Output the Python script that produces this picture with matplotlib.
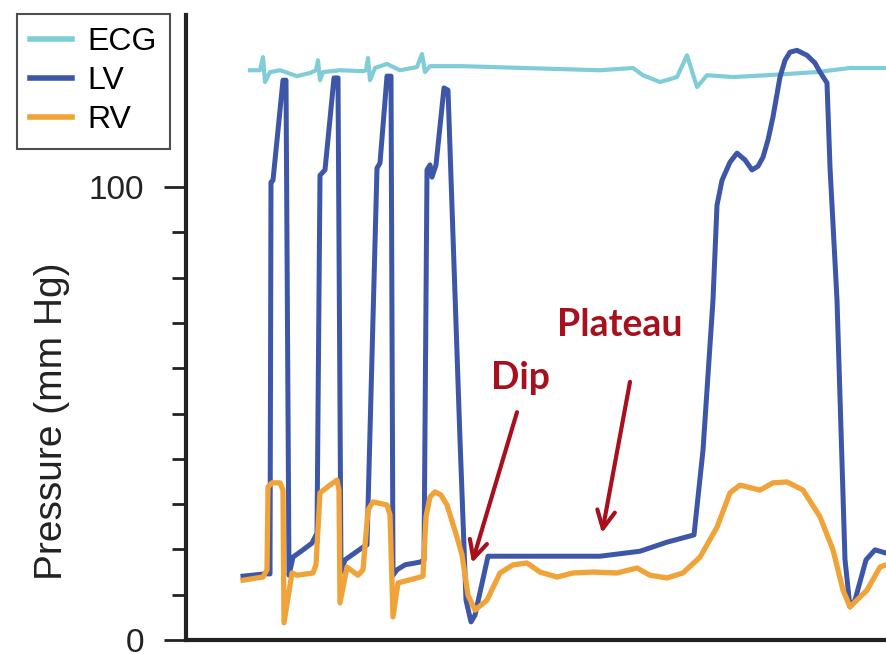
import numpy as np
import matplotlib.pyplot as plt
from matplotlib.ticker import FixedLocator

plt.rcParams['font.family'] = ['Liberation Sans', 'DejaVu Sans']

# traces: time (arbitrary units), pressure (mm Hg)
ecg_t = [64, 74, 77, 79, 84, 94, 111, 124, 130, 132, 134, 137, 154, 177, 180, 182, 184, 189,
         201, 214, 231, 236, 239, 244, 277, 414, 447, 457, 474, 491, 501, 511, 521, 547, 581,
         631, 664, 700]
ecg_p = [125.8, 125.8, 128.7, 123.2, 125.4, 125.8, 124.5, 125.2, 125.8, 128.0, 123.6, 125.4,
         125.8, 125.6, 125.8, 128.5, 123.6, 126.3, 127.2, 125.8, 126.5, 129.4, 125.4, 126.7,
         126.7, 125.8, 126.3, 124.7, 123.2, 124.3, 129.1, 122.1, 124.7, 124.3, 124.7, 125.4,
         126.3, 126.3]

lv_t = [57, 79, 84, 85, 87, 97, 100, 103, 107, 117, 126, 131, 134, 139, 148, 152, 155, 159,
        177, 181, 191, 194, 201, 205, 207, 211, 219, 234, 238, 241, 244, 246, 250, 258, 262,
        274, 280, 285, 289, 302, 414, 454, 481, 508, 517, 527, 531, 536, 544, 551, 559, 566,
        572, 577, 582, 587, 594, 599, 604, 611, 621, 629, 634, 641, 644, 651, 659, 664, 669,
        680, 689, 700]
lv_p = [14.1, 14.6, 14.6, 101.1, 101.5, 123.6, 123.6, 14.3, 18.3, 19.9, 21.4, 23.6, 102.6,
        103.8, 124.1, 124.1, 15.0, 17.7, 20.5, 21.0, 104.2, 105.3, 124.5, 124.5, 14.3, 15.5,
        16.6, 17.2, 17.7, 103.8, 104.9, 102.2, 104.9, 121.9, 121.4, 44.2, 8.8, 4.0, 5.5, 18.5,
        18.5, 19.6, 21.6, 23.2, 41.9, 75.1, 96.0, 101.5, 105.5, 107.5, 106.0, 103.8, 104.6,
        106.6, 110.4, 115.5, 124.3, 128.0, 129.8, 130.2, 129.1, 127.4, 125.4, 123.0, 104.4,
        75.1, 17.7, 7.3, 8.8, 17.7, 19.9, 19.2]

rv_t = [57, 77, 81, 82, 86, 94, 97, 98, 106, 111, 127, 130, 134, 144, 151, 153, 154, 161, 172,
        177, 182, 187, 201, 204, 207, 212, 231, 237, 240, 244, 249, 255, 261, 271, 276, 282,
        289, 301, 314, 327, 341, 354, 371, 387, 407, 431, 451, 464, 481, 497, 514, 531, 544,
        554, 574, 587, 601, 617, 634, 647, 657, 664, 681, 694, 700]
rv_p = [13.2, 13.9, 15.5, 33.8, 34.7, 34.7, 33.1, 3.8, 14.8, 14.3, 14.8, 16.6, 32.5, 34.2,
        35.3, 33.1, 8.2, 16.1, 14.3, 15.5, 28.7, 30.5, 29.8, 27.6, 5.1, 12.6, 13.7, 14.1, 27.2,
        31.6, 32.7, 32.0, 29.8, 22.7, 18.8, 9.9, 6.6, 8.8, 14.8, 16.6, 17.0, 15.0, 13.9, 14.8,
        15.0, 14.8, 15.9, 14.3, 13.7, 14.8, 18.3, 24.9, 32.5, 34.2, 33.1, 34.7, 34.9, 33.1,
        27.2, 19.9, 11.0, 7.3, 11.0, 16.1, 16.6]

ecg_col = '#80cdd8'
lv_col = '#3d56a8'
rv_col = '#f0a338'
red = '#a8101e'

fig = plt.figure(figsize=(8.86, 6.54), dpi=100)
ax = fig.add_axes([186/886, 14/654, 700/886, 625/654])

ax.plot(ecg_t, ecg_p, color=ecg_col, lw=3.0, label='ECG', zorder=2, solid_joinstyle='round')
ax.plot(lv_t, lv_p, color=lv_col, lw=3.6, label='LV', zorder=3, solid_joinstyle='round')
ax.plot(rv_t, rv_p, color=rv_col, lw=3.8, label='RV', zorder=4, solid_joinstyle='round')

ax.set_xlim(0, 700)
ax.set_ylim(0, 138)

for s in ['top', 'right']:
    ax.spines[s].set_visible(False)
for s in ['left', 'bottom']:
    ax.spines[s].set_linewidth(3)
    ax.spines[s].set_color('#222222')

ax.set_xticks([])
ax.yaxis.set_major_locator(FixedLocator([0, 100]))
ax.yaxis.set_minor_locator(FixedLocator(list(range(10, 100, 10))))
ax.tick_params(axis='y', which='major', length=16, width=2, pad=14, labelsize=24, colors='#222222')
ax.tick_params(axis='y', which='minor', length=10, width=2, colors='#222222')

ax.set_ylabel('Pressure (mm Hg)', fontsize=28, color='#222222', va='center')
ax.yaxis.set_label_coords(-0.192, 0.35)

# annotations
ax.text(334, 57.8, 'Dip', color=red, fontsize=27, fontweight='bold', family='Lato',
        ha='center', va='center')
ax.text(434, 69.5, 'Plateau', color=red, fontsize=27, fontweight='bold', family='Lato',
        ha='center', va='center')
arrow = dict(arrowstyle='->', color=red, lw=3, mutation_scale=32, shrinkA=0, shrinkB=0)
ax.annotate('', xy=(286, 17.0), xytext=(331, 50.3), arrowprops=arrow, zorder=6)
ax.annotate('', xy=(416, 23.6), xytext=(444, 57.0), arrowprops=arrow, zorder=6)

leg = fig.legend(loc='upper left', bbox_to_anchor=(17/886, 1 - 14/654), fontsize=23,
                 frameon=True, fancybox=False, edgecolor='#222222', handlelength=1.3,
                 handletextpad=0.47, labelspacing=0.28, borderpad=0.42, borderaxespad=0)
leg.get_frame().set_linewidth(1.5)
for ln in leg.get_lines():
    ln.set_linewidth(4)

fig.savefig('out.png', dpi=100)
